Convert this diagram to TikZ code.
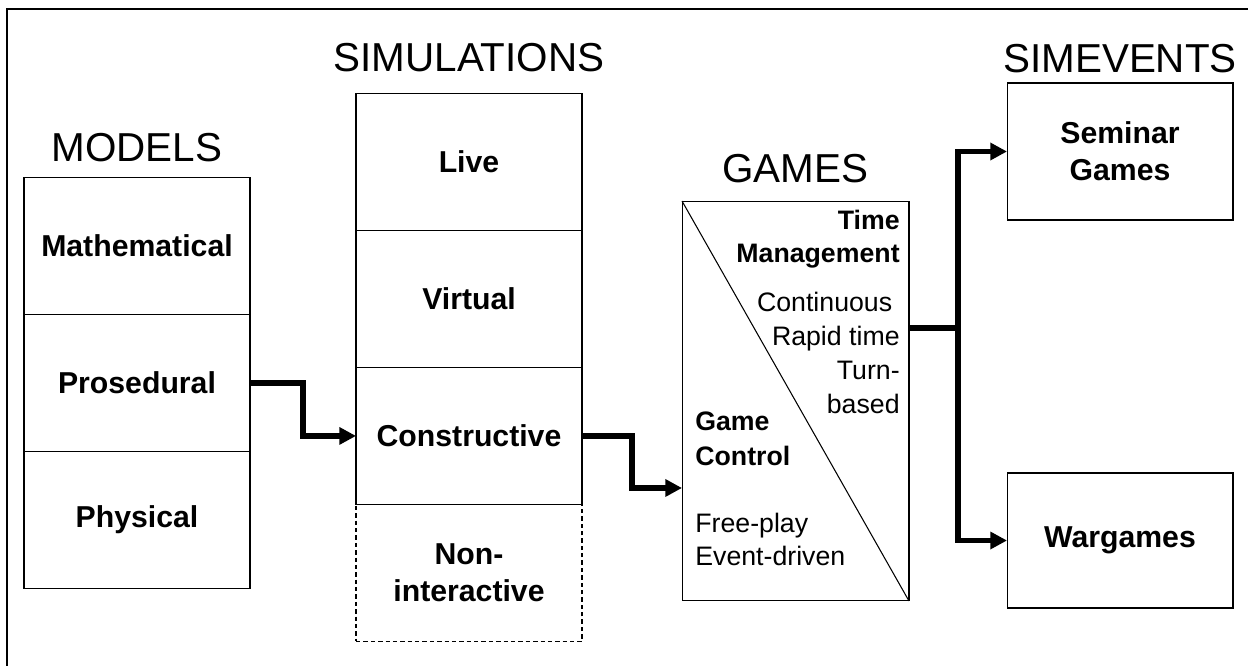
\documentclass[tikz,border=0pt]{standalone}
\usepackage{fontspec}
\setmainfont{Liberation Sans}
\usetikzlibrary{positioning}
\usetikzlibrary{arrows.meta, calc}

\begin{document}
\begin{tikzpicture}[x=0.02cm,y=-0.02cm,
  cell/.style={draw,line width=0.6pt,minimum width=4.52cm,minimum height=2.74cm,inner sep=0pt,outer sep=0pt,align=center,font=\fontsize{17.2}{21}\selectfont\bfseries},
  header/.style={inner sep=0pt,font=\fontsize{23}{27}\selectfont},
  gtext/.style={inner sep=0pt,font=\fontsize{15.2}{19.3}\selectfont},
  gbold/.style={inner sep=0pt,font=\fontsize{15.2}{18.7}\selectfont\bfseries},
  link/.style={line width=3pt,-{Triangle[length=9.5pt,width=9.5pt]}}]
\useasboundingbox (0,0) rectangle (1248,666);
\draw[line width=1.1pt] (7,9) rectangle (1262,682);

% models
\node[cell] (math) at (137,246) {Mathematical};
\node[cell,below=0pt of math] (pros) {Prosedural};
\node[cell,below=0pt of pros] (phys) {Physical};
\node[header,above=0.3cm of math] (models) {MODELS};

% simulations
\node[cell] (live) at (469,162) {Live};
\node[cell,below=0pt of live] (virt) {Virtual};
\node[cell,below=0pt of virt] (cons) {Constructive};
\node[cell,dash pattern=on 2.5pt off 1.7pt,below=0pt of cons] (nonint) {Non-\\interactive};
\node[header,above=0.42cm of live] (sims) {SIMULATIONS};

% games
\node[draw,line width=0.6pt,minimum width=4.54cm,minimum height=8cm,inner sep=0pt,outer sep=0pt] (games) at (795.5,401) {};
\draw[line width=0.6pt] (games.north west) -- (games.south east);
\node[header,above=0.36cm of games] (gameshd) {GAMES};
\node[gbold,align=right,anchor=base east] (timemg) at (900,262) {Time\\Management};
\node[gtext,align=right,anchor=base east] (tmodes) at (900,413) {Continuous\hspace*{0.28em}\\Rapid time\\Turn-\\based};
\node[gbold,font=\fontsize{15.2}{19.9}\selectfont\bfseries,align=left,anchor=base west] (gamectl) at (695,465) {Game\\Control};
\node[gtext,font=\fontsize{15.2}{18.7}\selectfont,align=left,anchor=base west] (cmodes) at (695,565) {Free-play\\Event-driven};

% simevents
\node[cell] (seminar) at (1120,151.5) {Seminar\\Games};
\node[cell,minimum height=2.7cm] (wargames) at (1120,540.5) {Wargames};
\node[header,above=0.2cm of seminar] (simev) {SIMEVENTS};

% links
\draw[link] (pros.east) -| ($(pros.east)!0.5!(cons.west)$) |- (cons.west);
\coordinate (gin) at ($(games.north west)!0.7175!(games.south west)$);
\draw[link] (cons.east) -| ($(cons.east)!0.5!(gin)$) |- (gin);
\coordinate (gout) at ($(games.north east)!0.3175!(games.south east)$);
\coordinate (split) at ($(gout)!0.5!(gout -| seminar.west)$);
\draw[link] (gout) -- (split) |- (seminar.west);
\draw[link] (split) |- (wargames.west);
\end{tikzpicture}
\end{document}
